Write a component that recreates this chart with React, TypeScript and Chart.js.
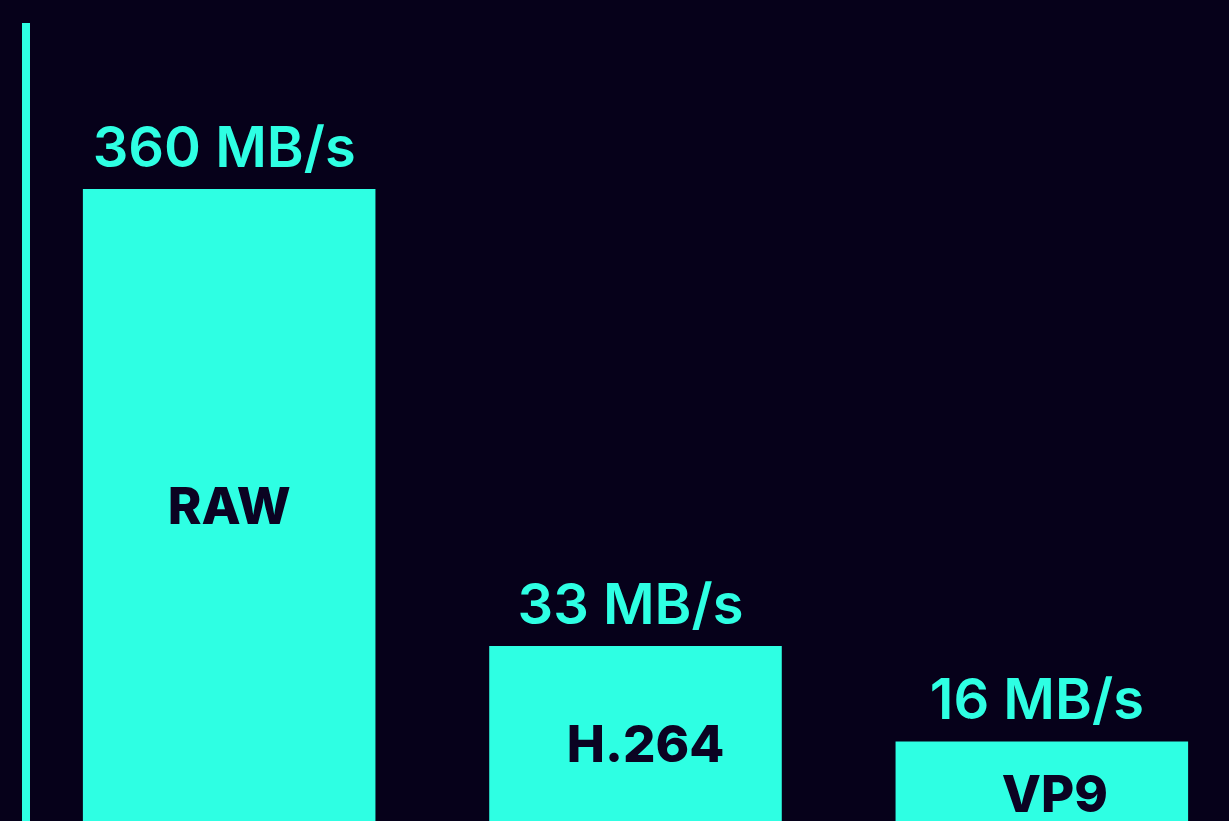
import React, { useEffect, useRef } from "react";
import { Chart, registerables } from "chart.js";

Chart.register(...registerables);

// Data
const codecs = ["RAW", "H.264", "VP9"];
const throughputLabels = ["360 MB/s", "33 MB/s", "16 MB/s"];
// Relative bar heights as drawn in the reference (percent of the axis height)
const barHeights = [79.8, 24.2, 12.6];

const BG = "#06011a";
const CYAN = "#2effe3";
const DARK = "#0b0322";

// small per-label nudges for the in-bar names (style only)
const nameDx = [0, 10, 13];
const nameDy = [-8, 1, 3];

const labelPlugin = {
  id: "barLabels",
  afterDraw(chart: any) {
    const { ctx, chartArea } = chart;
    ctx.save();
    // axis line (8px wide, centred on the chart area's left edge)
    ctx.fillStyle = CYAN;
    ctx.fillRect(chartArea.left - 4, chartArea.top, 8, chartArea.bottom - chartArea.top + 40);

    const meta = chart.getDatasetMeta(0);
    meta.data.forEach((bar: any, i: number) => {
      const { x, y, base } = bar.getProps(["x", "y", "base"], true);
      ctx.fillStyle = CYAN;
      ctx.font = "600 56px Inter";
      ctx.textAlign = "center";
      ctx.textBaseline = "alphabetic";
      ctx.fillText(throughputLabels[i], x - 5, y - 22);

      ctx.fillStyle = DARK;
      ctx.font = "800 51px Inter";
      ctx.textBaseline = "middle";
      ctx.fillText(codecs[i], x + nameDx[i], (y + base) / 2 + nameDy[i]);
    });
    ctx.restore();
  },
};

export default function App() {
  const ref = useRef<HTMLCanvasElement | null>(null);
  useEffect(() => {
    document.body.style.margin = "0";
    document.body.style.background = BG;
    const chart = new Chart(ref.current as HTMLCanvasElement, {
      type: "bar",
      data: {
        labels: codecs,
        datasets: [
          {
            data: barHeights,
            backgroundColor: CYAN,
            borderWidth: 0,
            categoryPercentage: 1,
            barPercentage: 0.72,
          },
        ],
      },
      options: {
        responsive: false,
        animation: false,
        devicePixelRatio: 1,
        layout: { padding: { top: 23, left: 26, right: 15, bottom: 25 } },
        plugins: {
          legend: { display: false },
          title: { display: false },
          tooltip: { enabled: false },
        },
        scales: {
          x: { display: false },
          y: { display: false, min: 0, max: 100 },
        },
      },
      plugins: [labelPlugin],
    });
    return () => chart.destroy();
  }, []);

  return (
    <div
      style={{
        position: "fixed",
        left: 0,
        top: 0,
        width: "1229px",
        height: "821px",
        overflow: "hidden",
        background: BG,
      }}
    >
      <canvas
        ref={ref}
        width={1260}
        height={870}
        style={{ position: "absolute", left: 0, top: 0, width: "1260px", height: "870px" }}
      />
    </div>
  );
}
